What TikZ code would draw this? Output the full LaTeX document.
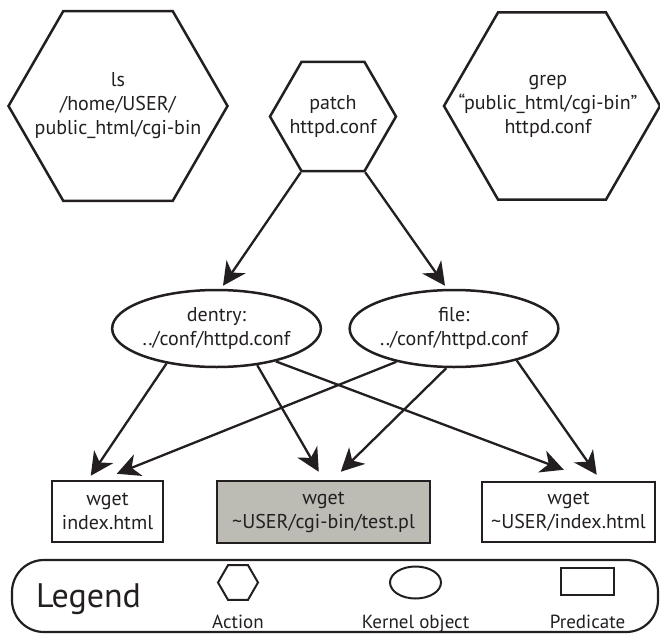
\documentclass[tikz,border=0pt]{standalone}
\usepackage{fontspec}
\setmainfont{PT Sans}
\usetikzlibrary{shapes.geometric,arrows.meta,calc}
\definecolor{boxgray}{RGB}{188,188,180}
\definecolor{ink}{RGB}{35,31,32}
\begin{document}
\begin{tikzpicture}[x=1pt,y=-1pt,
  every node/.style={font=\fontsize{20}{24}\selectfont, align=center, text=ink},
  hexa/.style={draw=ink, regular polygon, regular polygon sides=6, inner sep=0pt, line width=2.5pt},
  ell/.style={draw=ink, ellipse, inner sep=0pt, line width=2.5pt, minimum width=181pt, minimum height=77pt},
  pred/.style={draw=ink, rectangle, inner sep=0pt, line width=2.5pt},
  conn/.style={draw=ink, line width=2.3pt, -{Stealth[length=23pt,width=23pt,inset=7pt]}},
  small/.style={font=\fontsize{19}{22}\selectfont, anchor=base},
]
\useasboundingbox (0,0) rectangle (660,634);

% actions
\node[hexa, minimum size=219pt, label={center:ls\\/home/USER/\\public\_html/cgi-bin}] (ls) at (118,106) {};
\node[hexa, minimum size=126pt, label={center:patch\\httpd.conf}] (patch) at (333,116.5) {};
\node[hexa, minimum size=216pt, label={[xshift=-4pt]center:grep\\“public\_html/cgi-bin”\\httpd.conf}] (grep) at (552,106) {};

% kernel objects
\node[ell] (dentry) at (216.5,328.5) {dentry:\\../conf/httpd.conf};
\node[ell] (file) at (454,328.5) {file:\\../conf/httpd.conf};

% predicates
\node[pred, minimum width=111pt, minimum height=61pt] (lbox) at (107.5,511.5) {wget\\index.html};
\node[pred, fill=boxgray, minimum width=213pt, minimum height=62pt] (gbox) at (323.5,512) {wget\\\textasciitilde USER/cgi-bin/test.pl};
\node[pred, minimum width=173pt, minimum height=60pt] (rbox) at (568.5,512) {wget\\\textasciitilde USER/index.html};

% connectors
\draw[conn] (patch.240) -- ($(dentry.north)+(6.5,-3)$);
\draw[conn] (patch.300) -- ($(file.north)+(-9,-3)$);
\draw[conn] (dentry.215) -- ($(lbox.north west)+(40,-4)$);
\draw[conn] (dentry.318) -- ($(gbox.north west)+(103,-8)$);
\draw[conn] (dentry.331) -- ($(rbox.north west)+(83,-11)$);
\draw[conn] (file.210) -- ($(lbox.north west)+(66,-6)$);
\draw[conn] (file.259) -- ($(gbox.north west)+(125,-8)$);
\draw[conn] (file.333) -- ($(rbox.north west)+(116,-6)$);

% legend
\node[draw=ink, line width=2.2pt, rounded corners=32pt, minimum width=646pt, minimum height=72pt, inner sep=0pt] (legend) at (335,596) {};
\node[font=\fontsize{34}{40}\selectfont, anchor=base] (legtitle) at (88.5,607) {Legend};
\node[hexa, minimum size=40pt, line width=2pt] (legA) at (238,582.5) {};
\node[draw=ink, ellipse, minimum width=51pt, minimum height=32pt, line width=2pt, inner sep=0pt] (legK) at (415.5,582.5) {};
\node[pred, minimum width=53pt, minimum height=27pt, line width=2pt] (legP) at (587.5,581.5) {};
\node[small] (labA) at (238,628) {Action};
\node[small] (labK) at (415.5,628) {Kernel object};
\node[small] (labP) at (587.5,628) {Predicate};
\end{tikzpicture}
\end{document}
